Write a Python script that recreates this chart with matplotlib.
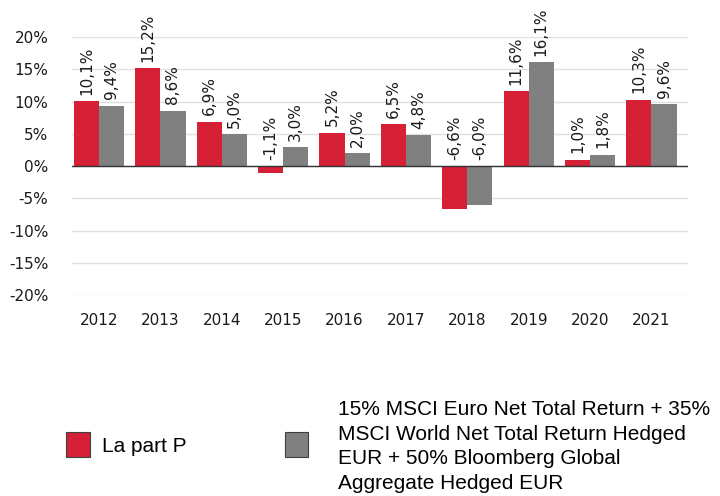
import matplotlib
matplotlib.use('Agg')
import matplotlib.pyplot as plt
from matplotlib.patches import Rectangle
import numpy as np

# =========================
# DATA
# =========================
years = ['2012', '2013', '2014', '2015', '2016', '2017', '2018', '2019', '2020', '2021']
part_p = [10.1, 15.2, 6.9, -1.1, 5.2, 6.5, -6.6, 11.6, 1.0, 10.3]
benchmark = [9.4, 8.6, 5.0, 3.0, 2.0, 4.8, -6.0, 16.1, 1.8, 9.6]
yticks = [-20, -15, -10, -5, 0, 5, 10, 15, 20]

label_p = 'La part P'
label_bench = ('15% MSCI Euro Net Total Return + 35%\n'
               'MSCI World Net Total Return Hedged\n'
               'EUR + 50% Bloomberg Global\n'
               'Aggregate Hedged EUR')

RED = '#d62035'
GREY = '#808080'

# =========================
# FIGURE
# =========================
fig = plt.figure(figsize=(7.2, 4.96), dpi=100)
ax = fig.add_axes([0.1, 0.405, 0.856, 0.520])

x = np.arange(len(years))
w = 0.41
ax.bar(x - w / 2, part_p, w, color=RED, zorder=3)
ax.bar(x + w / 2, benchmark, w, color=GREY, zorder=3)

# value labels
for xs, vals in ((x - w / 2, part_p), (x + w / 2, benchmark)):
    for xi, v in zip(xs, vals):
        ax.annotate(f'{v:.1f}%'.replace('.', ','), (xi, max(v, 0)),
                    xytext=(0, 4.5), textcoords='offset points',
                    rotation=90, ha='center', va='bottom', fontsize=11,
                    color='#1a1a1a', zorder=4)

ax.set_xlim(-0.44, 9.6)
ax.set_ylim(-20, 20)
ax.set_yticks(yticks)
ax.set_yticklabels([f'{t}%' for t in yticks], fontsize=11, color='#1a1a1a')
ax.set_xticks(x)
ax.set_xticklabels(years, fontsize=11, color='#1a1a1a')
ax.tick_params(length=0)
ax.tick_params(axis='x', pad=13)
ax.tick_params(axis='y', pad=17)
ax.yaxis.grid(True, color='#e0e0e0', linewidth=1, zorder=0)
ax.axhline(0, color='#333333', linewidth=1, zorder=4)
for s in ax.spines.values():
    s.set_visible(False)

# =========================
# LEGEND
# =========================
def fig_box(px, py, pw, ph, color):
    fig.patches.append(Rectangle((px / 720, 1 - (py + ph) / 496), pw / 720, ph / 496,
                                 transform=fig.transFigure, facecolor=color,
                                 edgecolor='#404040', linewidth=0.8))

fig_box(66, 432, 24, 25, RED)
fig_box(285, 432, 23, 25, GREY)
fig.text(102 / 720, 1 - 447 / 496, label_p, fontsize=15, family='Liberation Sans',
         va='center', ha='left')
fig.text(338 / 720, 1 - 400 / 496, label_bench, fontsize=15, family='Liberation Sans',
         va='top', ha='left', linespacing=1.37)

fig.savefig('out.png', dpi=100)
